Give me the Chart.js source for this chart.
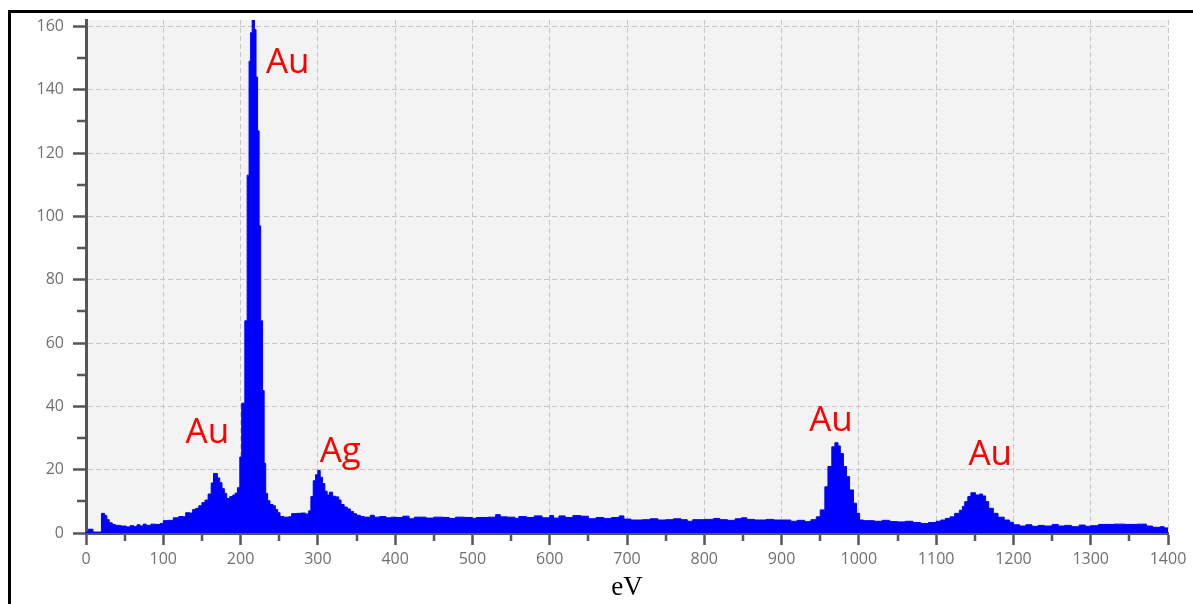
<!DOCTYPE html>
<html>
<head>
<meta charset="utf-8">
<script src="https://cdn.jsdelivr.net/npm/chart.js@4.4.1/dist/chart.umd.min.js"></script>
<style>
  body { margin: 0; background: #ffffff; }
  #wrap { position: relative; width: 1193px; height: 604px; overflow: hidden; }
  #frame { position: absolute; left: 8px; top: 10px; width: 1200px; height: 610px;
           border-top: 3px solid #000; border-left: 3px solid #000; pointer-events: none; }
</style>
</head>
<body>
<div id="wrap">
  <canvas id="chart1" width="1193" height="604"></canvas>
  <div id="frame"></div>
</div>
<script>
// spectrum: start of each step (eV) and its counts
var energy = [0, 3, 9, 20, 24, 27, 30, 34, 38, 45, 52, 57, 62, 66, 70, 74, 78, 84, 90, 96,
  100, 107, 113, 120, 126, 129, 134, 138, 142, 146, 150, 154, 158, 162, 165, 170, 173, 176, 179, 182,
  186, 190, 193, 196, 199, 201.5, 205.5, 208.5, 211, 213, 215, 218, 220, 222, 224, 226, 228.5, 230.5, 232.5, 235,
  238, 242, 245, 248, 251, 256, 262, 266, 272, 278, 284, 288, 291, 294, 297, 300, 303, 306, 309, 312,
  315, 319, 323, 327, 330, 334, 338, 342, 346, 350, 355, 360, 368, 373, 380, 388, 395, 400, 410, 418,
  425, 440, 450, 462, 470, 478, 490, 500, 505, 520, 530, 536, 545, 555, 560, 570, 580, 590, 600, 605,
  612, 620, 630, 640, 650, 660, 670, 680, 690, 696, 705, 720, 730, 740, 750, 760, 770, 778, 785, 800,
  812, 820, 830, 840, 848, 855, 865, 880, 890, 900, 912, 920, 930, 938, 945, 950, 956, 960, 965, 969,
  973, 976, 980, 984, 988, 993, 997, 1001, 1006, 1020, 1030, 1040, 1050, 1060, 1070, 1080, 1090, 1100, 1106, 1112,
  1118, 1124, 1130, 1134, 1137, 1141, 1145, 1151, 1156, 1160, 1164, 1168, 1174, 1180, 1188, 1195, 1200, 1208, 1216, 1224,
  1232, 1240, 1250, 1258, 1266, 1275, 1285, 1293, 1300, 1310, 1330, 1345, 1360, 1372, 1380, 1390, 1395, 1400];
var counts = [0.3, 1.2, 0.3, 6.2, 5.5, 4.2, 3.2, 2.7, 2.4, 2.2, 1.9, 2.3, 2.0, 2.6, 2.2, 2.8, 2.4, 2.8, 2.7, 3.0,
  3.9, 4.0, 4.8, 5.2, 5.1, 6.4, 6.3, 7.4, 7.8, 8.6, 9.6, 10.4, 12.3, 15.8, 18.8, 17.4, 15.9, 14.0, 12.5, 10.9,
  11.5, 12.0, 12.6, 14.3, 24, 41, 67, 113, 149, 158, 162, 159, 144, 127, 97, 67, 45, 22, 12.5, 10.2,
  9.0, 8.6, 7.4, 6.4, 5.2, 5.0, 5.1, 6.1, 6.2, 6.3, 6.0, 7.0, 11.5, 16.5, 18.4, 19.8, 17.6, 15.6, 13.2, 12.0,
  12.9, 11.6, 11.4, 10.4, 9.0, 8.2, 7.6, 6.8, 6.1, 5.6, 5.2, 5.0, 5.6, 5.0, 5.2, 4.8, 5.0, 4.9, 5.3, 4.5,
  5.0, 4.7, 5.0, 4.9, 4.6, 5.0, 4.9, 4.6, 4.9, 5.0, 5.8, 5.1, 5.0, 4.6, 5.2, 4.9, 5.4, 4.8, 5.5, 4.7,
  5.4, 4.9, 5.5, 5.3, 4.5, 4.9, 4.6, 4.9, 5.4, 4.4, 4.1, 4.2, 4.5, 4.1, 4.2, 4.5, 4.2, 3.7, 4.2, 4.3,
  4.6, 4.2, 4.0, 4.5, 4.8, 4.3, 4.1, 4.3, 4.1, 4.1, 3.7, 4.0, 3.6, 4.2, 5.1, 7.3, 14.6, 21, 27.2, 28.5,
  27.5, 25.1, 21, 17.8, 13.6, 9.4, 6.2, 4.1, 3.9, 3.7, 4.0, 3.6, 3.5, 3.7, 3.3, 3.0, 3.3, 3.7, 4.1, 4.6,
  5.1, 6.2, 7.2, 8.4, 9.9, 11.5, 12.7, 12.0, 12.3, 11.7, 9.9, 7.8, 6.2, 5.0, 4.1, 3.4, 2.6, 2.2, 2.6, 2.1,
  2.4, 2.2, 2.7, 2.2, 2.4, 2.0, 2.5, 2.1, 2.3, 2.7, 2.8, 2.7, 2.8, 2.2, 1.8, 2.0, 1.6, 1.6];

// peak names and where they sit (eV, counts)
var peakNames = ['Au', 'Au', 'Ag', 'Au', 'Au'];
var peakNameEV = [261, 157, 329, 964, 1170];
var peakNameCount = [145.4, 28.4, 22.4, 32.2, 21.5];

var xTickStep = 100;
var yTickStep = 20;

var points = [];
for (var i = 0; i < energy.length; i++) {
  points.push({x: energy[i], y: counts[i]});
}

var axisColor = '#565656';

var plotBackground = {
  id: 'plotBackground',
  beforeDraw: function(chart) {
    var a = chart.chartArea;
    var ctx = chart.ctx;
    ctx.save();
    ctx.fillStyle = '#f3f3f3';
    ctx.fillRect(a.left, a.top, a.right - a.left, a.bottom - a.top);
    ctx.restore();
  }
};

// minor tick marks between the labelled ones
var minorTicks = {
  id: 'minorTicks',
  afterDraw: function(chart) {
    var ctx = chart.ctx;
    var xs = chart.scales.x, ys = chart.scales.y;
    ctx.save();
    ctx.strokeStyle = axisColor;
    ctx.lineWidth = 2.5;
    ctx.beginPath();
    for (var v = xTickStep / 2; v < 1400; v += xTickStep) {
      var px = Math.round(xs.getPixelForValue(v));
      ctx.moveTo(px, ys.bottom);
      ctx.lineTo(px, ys.bottom + 8);
    }
    for (var w = yTickStep / 2; w < 162; w += yTickStep) {
      var py = Math.round(ys.getPixelForValue(w));
      ctx.moveTo(xs.left - 9, py);
      ctx.lineTo(xs.left, py);
    }
    ctx.stroke();
    ctx.restore();
  }
};

var peakLabels = {
  id: 'peakLabels',
  afterDatasetsDraw: function(chart) {
    var ctx = chart.ctx;
    ctx.save();
    ctx.fillStyle = '#ff0000';
    ctx.font = '35px "Open Sans"';
    ctx.textAlign = 'center';
    ctx.textBaseline = 'alphabetic';
    for (var i = 0; i < peakNames.length; i++) {
      ctx.fillText(peakNames[i], chart.scales.x.getPixelForValue(peakNameEV[i]),
        chart.scales.y.getPixelForValue(peakNameCount[i]));
    }
    ctx.restore();
  }
};

function plainNumber(value) {
  return String(value);
}

var ctx = document.getElementById('chart1');
var spectrum = new Chart(ctx, {
  type: 'line',
  data: {
    datasets: [{
      data: points,
      stepped: true,
      fill: 'origin',
      borderColor: '#0000ff',
      backgroundColor: '#0000ff',
      borderWidth: 1,
      pointRadius: 0
    }]
  },
  options: {
    responsive: false,
    animation: false,
    layout: { padding: { left: 0, top: 20, right: 25, bottom: 0 } },
    plugins: { legend: { display: false }, tooltip: { enabled: false } },
    scales: {
      x: {
        type: 'linear',
        min: 0,
        max: 1400,
        afterFit: function(scale) { scale.height = 71; },
        border: { color: axisColor, width: 3, dash: [5, 3] },
        grid: { color: '#c6c6c6', lineWidth: 1, tickLength: 12, tickColor: axisColor, tickWidth: 2.5 },
        ticks: { stepSize: xTickStep, color: '#707070', padding: 5, maxRotation: 0,
                 callback: plainNumber, font: { family: 'Open Sans', size: 16 } },
        title: { display: true, text: 'eV', color: '#000000', padding: 0,
                 font: { family: 'Liberation Serif', size: 27 } }
      },
      y: {
        min: 0,
        max: 162,
        afterFit: function(scale) { scale.width = 86; },
        border: { color: axisColor, width: 3, dash: [5, 3] },
        grid: { color: '#c6c6c6', lineWidth: 1, tickLength: 13, tickColor: axisColor, tickWidth: 2.5 },
        ticks: { stepSize: yTickStep, includeBounds: false, color: '#707070', padding: 9,
                 callback: plainNumber, font: { family: 'Open Sans', size: 16 } }
      }
    }
  },
  plugins: [plotBackground, minorTicks, peakLabels]
});
</script>
</body>
</html>
